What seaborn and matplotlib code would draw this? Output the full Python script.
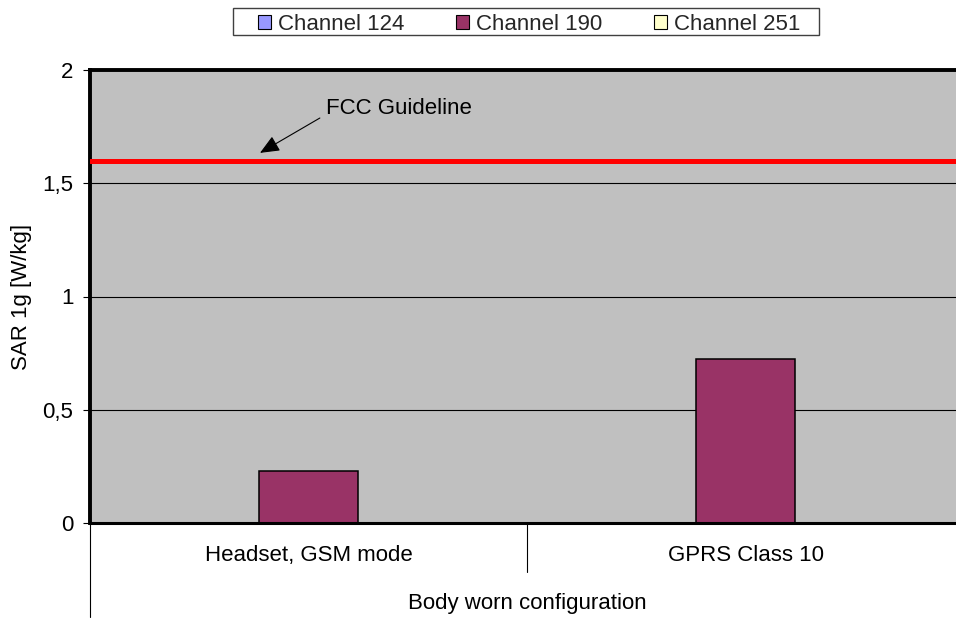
import numpy as np
import pandas as pd
import matplotlib
matplotlib.use("Agg")
import matplotlib.pyplot as plt
import matplotlib.transforms as mtransforms
from matplotlib.patches import Patch, Rectangle
import seaborn as sns

# ---- data ----
configurations = ["Headset, GSM mode", "GPRS Class 10"]
channels = ["Channel 124", "Channel 190", "Channel 251"]
sar_ch124 = [np.nan, np.nan]
sar_ch190 = [0.23, 0.725]
sar_ch251 = [np.nan, np.nan]
channel_colors = ["#9999FF", "#993366", "#FFFFCC"]
fcc_limit = 1.6
y_ticks = [0, 0.5, 1, 1.5, 2]
y_tick_labels = ["0", "0,5", "1", "1,5", "2"]
x_title = "Body worn configuration"
y_title = "SAR 1g [W/kg]"
guideline_label = "FCC Guideline"

df = pd.DataFrame({
    "config": configurations * 3,
    "channel": [channels[0]] * 2 + [channels[1]] * 2 + [channels[2]] * 2,
    "sar": sar_ch124 + sar_ch190 + sar_ch251,
})

sns.set_theme(style="white")
plt.rcParams["font.family"] = ["Liberation Sans", "DejaVu Sans"]
plt.rcParams["font.size"] = 16

fig = plt.figure(figsize=(9.56, 6.19), dpi=100)
ax = fig.add_axes([90 / 956, 96 / 619, 874 / 956, 453 / 619])
ax.set_facecolor("#C0C0C0")

ax.set_axisbelow(True)
ax.grid(axis="y", color="black", linewidth=0.8)
ax.grid(axis="x", visible=False)

sns.barplot(data=df, x="config", y="sar", hue="channel", hue_order=channels,
            order=configurations, palette=channel_colors, width=0.673,
            errorbar=None, edgecolor="black", linewidth=1.1, legend=False,
            saturation=1, ax=ax)

ax.set_xlim(-0.5, 1.5)
ax.set_ylim(0, 2)
ax.set_yticks(y_ticks)
ax.set_yticklabels(y_tick_labels)
ax.tick_params(axis="y", which="major", left=True, length=5, width=0.8,
               pad=7, labelsize=16, colors="black", direction="out")
ax.tick_params(axis="x", length=0, pad=15.6, labelsize=16, colors="black")

for side in ["top", "left"]:
    ax.spines[side].set_visible(True)
    ax.spines[side].set_color("black")
    ax.spines[side].set_linewidth(2.8)
ax.spines["bottom"].set_color("black")
ax.spines["bottom"].set_linewidth(2.2)
ax.spines["right"].set_visible(False)

# FCC guideline line
ax.axhline(fcc_limit, color="#FF0000", linewidth=3.6, zorder=5)

# annotation
ax.annotate("", xy=(-0.111, 1.634), xytext=(0.026, 1.788),
            arrowprops=dict(arrowstyle="-|>,head_length=0.7,head_width=0.3",
                            mutation_scale=17, color="black", lw=0.8,
                            shrinkA=0, shrinkB=0), zorder=6)
ax.text(0.040, 1.832, guideline_label, ha="left", va="center", fontsize=16,
        color="black", zorder=6)

# labels
ax.set_xlabel(x_title, fontsize=16, color="black")
ax.xaxis.set_label_coords(0.5, (523 - 604) / 453)
ax.xaxis.label.set_va("center")
ax.set_ylabel(y_title, fontsize=16, color="black")
ax.yaxis.set_label_coords((21 - 90) / 874, 0.5)
ax.yaxis.label.set_va("center")

# category separators below axis
trans = mtransforms.blended_transform_factory(ax.transData, ax.transAxes)
ax.plot([-0.5, -0.5], [0, -(617 - 523) / 453], transform=trans, color="black",
        lw=0.8, clip_on=False)
ax.plot([0.5, 0.5], [0, -(572 - 523) / 453], transform=trans, color="black",
        lw=0.8, clip_on=False)

# legend
handles = [Patch(facecolor=c, edgecolor="black", linewidth=0.8)
           for c in channel_colors]
fig.legend(handles, channels, loc="center", ncol=3,
           bbox_to_anchor=(529 / 956, 1 - 24 / 619), frameon=False,
           borderpad=0, handlelength=0.6, handleheight=0.6,
           handletextpad=0.28, columnspacing=2.35, fontsize=16)
fig.add_artist(Rectangle((233 / 956, 1 - 35 / 619), 586 / 956, 27 / 619,
                         transform=fig.transFigure, fill=False,
                         edgecolor="#404040", linewidth=1))

fig.savefig("out.png", dpi=100)
